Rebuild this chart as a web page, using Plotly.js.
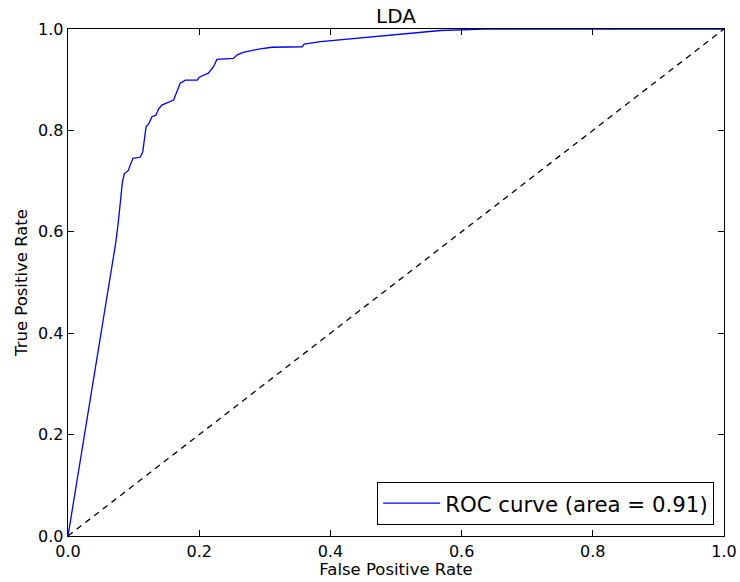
<!DOCTYPE html>
<html>
<head>
<meta charset="utf-8">
<script src="https://cdn.plot.ly/plotly-3.0.1.min.js"></script>
<style>html,body{margin:0;padding:0;background:#fff;}#chart{width:740px;height:582px;}</style>
</head>
<body>
<div id="chart"></div>
<script>
var fpr = [0, 0.073, 0.077, 0.080, 0.083, 0.086, 0.092, 0.095, 0.099, 0.110, 0.114, 0.119, 0.123, 0.128, 0.134, 0.138, 0.143, 0.161, 0.163, 0.171, 0.179, 0.197, 0.200, 0.214, 0.222, 0.227, 0.252, 0.258, 0.267, 0.278, 0.293, 0.311, 0.357, 0.360, 0.385, 0.568, 0.635, 1.0];
var tpr = [0, 0.58, 0.623, 0.66, 0.699, 0.715, 0.721, 0.732, 0.745, 0.747, 0.758, 0.807, 0.813, 0.827, 0.830, 0.842, 0.850, 0.860, 0.866, 0.893, 0.899, 0.899, 0.905, 0.913, 0.926, 0.940, 0.942, 0.949, 0.954, 0.957, 0.961, 0.964, 0.965, 0.970, 0.975, 0.997, 1.0, 1.0];
var chanceX = [0, 1];
var chanceY = [0, 1];
var legendLabel = 'ROC curve (area = 0.91)';
var titleText = 'LDA';
var xTitle = 'False Positive Rate';
var yTitle = 'True Positive Rate';
var tickVals = [0, 0.2, 0.4, 0.6, 0.8, 1.0];
var tickText = ['0.0', '0.2', '0.4', '0.6', '0.8', '1.0'];

var font = 'DejaVu Sans, sans-serif';
var traces = [
  {x: fpr, y: tpr, type: 'scatter', mode: 'lines', name: legendLabel,
   line: {color: '#0000ff', width: 1.3}},
  {x: chanceX, y: chanceY, type: 'scatter', mode: 'lines', showlegend: false,
   line: {color: '#000000', width: 1.3, dash: '6px,5px'}}
];
var axisCommon = {
  range: [0, 1], tickvals: tickVals, ticktext: tickText,
  ticks: 'inside', ticklen: 6, tickwidth: 1, tickcolor: '#000',
  showline: true, linecolor: '#000', linewidth: 1.3, mirror: 'ticks',
  showgrid: false, zeroline: false,
  tickfont: {family: font, size: 16, color: '#000'}
};
var layout = {
  width: 740, height: 582,
  margin: {l: 68, r: 16, t: 29, b: 46},
  paper_bgcolor: '#fff', plot_bgcolor: '#fff',
  title: {text: titleText, font: {family: font, size: 20, color: '#000'},
          x: 0.5, xref: 'paper', y: 1, yref: 'paper', yanchor: 'bottom', pad: {b: 6}},
  xaxis: Object.assign({}, axisCommon, {title: {text: xTitle, font: {family: font, size: 16.5, color: '#000'}, standoff: 2}}),
  yaxis: Object.assign({}, axisCommon, {title: {text: yTitle, font: {family: font, size: 16.5, color: '#000'}, standoff: 6}}),
  legend: {x: 0.985, y: 0.022, xanchor: 'right', yanchor: 'bottom',
           bgcolor: '#fff', bordercolor: '#000', borderwidth: 1, itemwidth: 57,
           font: {family: font, size: 21.3, color: '#000'}},
  showlegend: true
};
Plotly.newPlot('chart', traces, layout, {displayModeBar: false, staticPlot: true});
</script>
</body>
</html>
